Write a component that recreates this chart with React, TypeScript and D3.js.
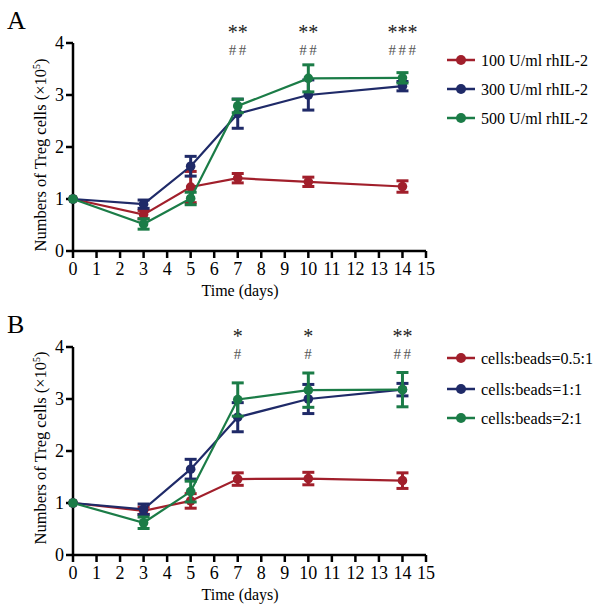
import React from "react";
import * as d3 from "d3";

const days = [0, 3, 5, 7, 10, 14];
const xTicks = d3.range(0, 16);
const yTicks = [0, 1, 2, 3, 4];

// Panel A
const legendA = ["100 U/ml rhIL-2", "300 U/ml rhIL-2", "500 U/ml rhIL-2"];
const a100 = [1, 0.7, 1.23, 1.4, 1.33, 1.24];
const a100Err = [0, 0.08, 0.3, 0.09, 0.09, 0.11];
const a300 = [1, 0.9, 1.63, 2.64, 3.0, 3.17];
const a300Err = [0, 0.08, 0.19, 0.28, 0.29, 0.09];
const a500 = [1, 0.52, 1.01, 2.79, 3.32, 3.33];
const a500Err = [0, 0.1, 0.12, 0.13, 0.26, 0.1];
const sigA = [
  { day: 7, star: "**", hash: "##" },
  { day: 10, star: "**", hash: "##" },
  { day: 14, star: "***", hash: "###" },
];

// Panel B
const legendB = ["cells:beads=0.5:1", "cells:beads=1:1", "cells:beads=2:1"];
const b05 = [1, 0.85, 1.04, 1.46, 1.47, 1.43];
const b05Err = [0, 0.07, 0.14, 0.12, 0.12, 0.15];
const b1 = [1, 0.88, 1.65, 2.65, 3.0, 3.18];
const b1Err = [0, 0.1, 0.19, 0.28, 0.28, 0.12];
const b2 = [1, 0.62, 1.22, 2.99, 3.17, 3.18];
const b2Err = [0, 0.11, 0.2, 0.32, 0.33, 0.33];
const sigB = [
  { day: 7, star: "*", hash: "#" },
  { day: 10, star: "*", hash: "#" },
  { day: 14, star: "**", hash: "##" },
];

const colors = ["#a11f2b", "#1f2a68", "#1b7c47"];
const FONT = "'Liberation Serif', 'Times New Roman', serif";

// layout: rendered widths of legend labels (px)
const legendWidthA = [107, 107, 107];
const legendWidthB = [112, 101, 101];

type Series = { values: number[]; errs: number[] };

function Panel({
  top,
  letter,
  series,
  labels,
  sig,
  legendY,
  legendFont,
  legendWidths,
  yLabelCenter,
}: {
  top: number;
  letter: string;
  series: Series[];
  labels: string[];
  sig: { day: number; star: string; hash: string }[];
  legendY: number[];
  legendFont: number;
  legendWidths: number[];
  yLabelCenter: number;
}) {
  const x = d3.scaleLinear().domain([0, 15]).range([73, 426]);
  const y = d3.scaleLinear().domain([0, 4]).range([top + 208, top]);
  const line = d3
    .line<number>()
    .x((_, i) => x(days[i]))
    .y((d) => y(d));
  const axisY = y(0);
  return (
    <g>
      <text x={7} y={top - 14} fontFamily={FONT} fontSize={26}>
        {letter}
      </text>
      {/* axes */}
      <line x1={x(0)} x2={x(15)} y1={axisY} y2={axisY} stroke="#000" strokeWidth={2.5} />
      <line x1={x(0)} x2={x(0)} y1={y(4)} y2={axisY} stroke="#000" strokeWidth={2.5} />
      {xTicks.map((t) => (
        <g key={"xt" + t}>
          <line x1={x(t)} x2={x(t)} y1={axisY} y2={axisY + 7} stroke="#000" strokeWidth={2.5} />
          <text
            x={x(t)}
            y={axisY + 24}
            textAnchor="middle"
            fontFamily={FONT}
            fontSize={18}
          >
            {t}
          </text>
        </g>
      ))}
      {yTicks.map((t) => (
        <g key={"yt" + t}>
          <line x1={x(0) - 7} x2={x(0)} y1={y(t)} y2={y(t)} stroke="#000" strokeWidth={2.5} />
          <text
            x={x(0) - 9}
            y={y(t) + 6}
            textAnchor="end"
            fontFamily={FONT}
            fontSize={18}
          >
            {t}
          </text>
        </g>
      ))}
      <text
        x={x(7.1)}
        y={axisY + 45}
        textAnchor="middle"
        fontFamily={FONT}
        fontSize={16}
      >
        Time (days)
      </text>
      <text
        transform={`translate(46, ${yLabelCenter}) rotate(-90)`}
        textAnchor="middle"
        fontFamily={FONT}
        fontSize={16.5}
      >
        Numbers of  Treg cells (×10
        <tspan dy={-6} fontSize={10}>
          5
        </tspan>
        <tspan dy={6}>)</tspan>
      </text>
      {/* series */}
      {series.map((s, si) => (
        <g key={"s" + si}>
          <path d={line(s.values) || ""} fill="none" stroke={colors[si]} strokeWidth={2.2} />
          {s.values.map((v, i) =>
            s.errs[i] > 0 ? (
              <g key={"e" + i} stroke={colors[si]} strokeWidth={3}>
                <line x1={x(days[i])} x2={x(days[i])} y1={y(v + s.errs[i])} y2={y(v - s.errs[i])} />
                <line x1={x(days[i]) - 6} x2={x(days[i]) + 6} y1={y(v + s.errs[i])} y2={y(v + s.errs[i])} />
                <line x1={x(days[i]) - 6} x2={x(days[i]) + 6} y1={y(v - s.errs[i])} y2={y(v - s.errs[i])} />
              </g>
            ) : null
          )}
          {s.values.map((v, i) => (
            <circle key={"c" + i} cx={x(days[i])} cy={y(v)} r={4.8} fill={colors[si]} />
          ))}
        </g>
      ))}
      {/* significance */}
      {sig.map((s) => (
        <g key={"sig" + s.day}>
          <text
            x={x(s.day)}
            y={top - 4}
            textAnchor="middle"
            fontFamily={FONT}
            fontSize={20}
            fill="#222"
          >
            {s.star}
          </text>
          <text
            x={x(s.day) + 1}
            y={top + 12}
            textAnchor="middle"
            fontFamily={FONT}
            fontSize={15}
            letterSpacing={2.5}
            fill="#555"
          >
            {s.hash}
          </text>
        </g>
      ))}
      {/* legend */}
      {labels.map((l, i) => (
        <g key={"lg" + i}>
          <line x1={447} x2={475} y1={legendY[i]} y2={legendY[i]} stroke={colors[i]} strokeWidth={2.5} />
          <circle cx={461} cy={legendY[i]} r={5} fill={colors[i]} />
          <text
            x={481}
            y={legendY[i] + 6}
            fontFamily={FONT}
            fontSize={legendFont}
            textLength={legendWidths[i]}
            lengthAdjust="spacingAndGlyphs"
          >
            {l}
          </text>
        </g>
      ))}
    </g>
  );
}

export default function App() {
  return (
    <svg width={602} height={610} style={{ display: "block", position: "absolute", left: 0, top: 0 }}>
      <rect width={602} height={610} fill="#fff" />
      <Panel
        top={43}
        letter="A"
        series={[
          { values: a100, errs: a100Err },
          { values: a300, errs: a300Err },
          { values: a500, errs: a500Err },
        ]}
        labels={legendA}
        sig={sigA}
        legendY={[60, 89, 118]}
        legendFont={17.5}
        legendWidths={legendWidthA}
        yLabelCenter={155}
      />
      <Panel
        top={347}
        letter="B"
        series={[
          { values: b05, errs: b05Err },
          { values: b1, errs: b1Err },
          { values: b2, errs: b2Err },
        ]}
        labels={legendB}
        sig={sigB}
        legendY={[358, 389, 418]}
        legendFont={16}
        legendWidths={legendWidthB}
        yLabelCenter={448}
      />
    </svg>
  );
}
